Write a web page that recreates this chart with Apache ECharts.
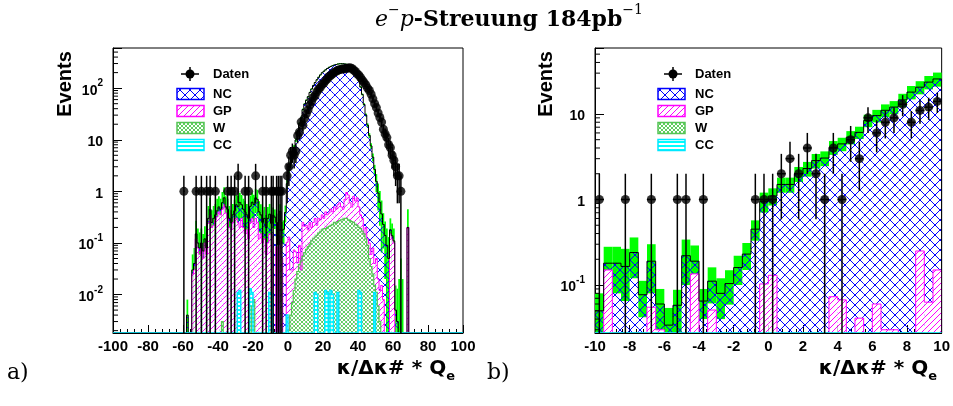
<!DOCTYPE html>
<html>
<head>
<meta charset="utf-8">
<script src="https://cdn.jsdelivr.net/npm/echarts@6/dist/echarts.min.js"></script>
<style>
html,body{margin:0;padding:0;background:#fff;}
#c{width:953px;height:406px;}
</style>
</head>
<body>
<div id="c"></div>
<script>
// ---------------- a) full range: 1-unit bins from -60 to 70 ----------------
const leftBinStart = -60;
const leftBinWidth = 1;
const leftData = [
  1,0,0,0,0,0,0,1,0,0,   1,0,0,1,0,1,0,0,1,0,   0,0,0,0,0,1,0,1,0,1,
  0,2,0,0,0,1,0,1,0,0,   0,2,0,0,0,1,0,1,0,0,   1,1,0,1,1,1,1,0,0,2,
  3,5,6,5,6,12,14,22,19,26,
  32,38,47,55,66,72,85,95,104,118,
  126,140,152,168,178,190,204,212,222,228,
  233,238,236,242,246,248,240,225,210,190,
  178,160,142,128,115,100,90,76,62,50,
  42,33,27,22,16,13,11,8,7,5,
  4,3,2,2,1,0,0,0,0,0
];
const leftNC = [
  0,0,0.004,0,0,0.005,0.01,0.03,0.02,0.02,
  0.02,0.02,0.02,0.02,0.06,0.1,0.05,0.08,0.07,0.1,
  0.1,0.1,0.15,0.2,0.12,0.15,0.1,0.07,0.1,0.12,
  0.25,0.25,0.4,0.25,0.25,0.25,0.17,0.18,0.25,0.3,
  0.35,0.45,0.45,0.28,0.2,0.15,0.18,0.14,0.2,0.2,
  0.08,0.345,0.317,0.165,0.092,0.275,0.124,0.184,0.39,1.3,
  2.5,3.4,5.1,7.1,9.8,14.4,20.5,26.4,38.3,49,
  58,68,82,96,112,128,145,162,180,198,
  212,226,240,252,263,272,280,287,292,296,
  298,297,294,288,280,268,252,232,208,178,
  140,105,75,48,30,19,12,7.5,4.5,2.6,
  1.5,0.9,0.6,0.35,0.22,0.14,0.09,0.05,0.03,0.018,
  0.01,0.005,0.003,0,0,0,0,0,0,0
];
const leftGP = [
  0,0,0,0,0,0.025,0.03,0.12,0.08,0.06,
  0.08,0.05,0.1,0.06,0.24,0.35,0.2,0.22,0.28,0.32,
  0.4,0.35,0.45,0.55,0.38,0.3,0.2,0.18,0.25,0.3,
  0.3,0.25,0.2,0.3,0.2,0.15,0.18,0.12,0.25,0.3,
  0.2,0.3,0.25,0.12,0.15,0.1,0.12,0.06,0.1,0.15,
  0.15,0,0,0.085,0,0.135,0.051,0,0,0.103,
  0.13,0.03,0.03,0.073,0.067,0.041,0.09,0.03,0.25,0.21,
  0.22,0.18,0.25,0.2,0.25,0.3,0.22,0.3,0.28,0.35,
  0.3,0.4,0.35,0.38,0.45,0.4,0.5,0.45,0.55,0.6,
  0.5,0.45,0.7,0.95,0.85,0.6,0.5,0.8,0.65,0.75,
  0.5,0.35,0.3,0.15,0.2,0.12,0.1,0.06,0.08,0.04,
  0.05,0.02,0.012,0.015,0.008,0,0,0,0.15,0.12,
  0.1,0,0,0,0,0,0,0,0.2,0
];
const leftW = [
  0,0,0,0,0,0,0,0,0,0,   0,0,0,0,0,0,0,0,0,0,   0,0,0.003,0,0,0,0,0,0,0,
  0,0,0,0,0,0,0,0,0,0.006,   0.008,0,0,0,0,0,0,0,0,0,   0,0,0,0,0,0,0,0,0,0.002,
  0.002,0.004,0.007,0.012,0.02,0.028,0.038,0.045,0.055,0.065,
  0.075,0.085,0.095,0.11,0.12,0.13,0.14,0.155,0.165,0.18,
  0.19,0.19,0.2,0.21,0.22,0.23,0.25,0.24,0.26,0.27,
  0.28,0.29,0.3,0.3,0.28,0.27,0.26,0.25,0.23,0.22,
  0.2,0.19,0.17,0.15,0.12,0.09,0.05,0.035,0.025,0.015,
  0.011,0.006,0.003,0,0,0,0,0,0,0,
  0,0,0,0,0,0,0,0,0,0
];
const leftCC = [
  0,0,0,0,0,0,0,0,0,0,   0,0,0,0,0,0,0,0,0,0,   0,0,0,0,0,0,0,0,0,0,
  0,0.011,0.012,0,0,0,0,0,0.013,0.011,
  0,0,0,0,0,0,0,0,0,0.011,
  0.01,0,0,0,0,0,0,0,0,0.004,
  0,0,0,0,0,0,0,0,0,0,
  0,0,0,0,0,0.011,0.01,0,0,0,
  0,0.012,0.011,0,0.012,0.01,0,0,0.011,0,
  0,0,0,0,0,0,0,0,0,0,
  0.012,0.011,0,0,0,0,0,0,0,0.011,
  0,0,0,0,0,0,0,0,0,0,
  0,0,0,0,0,0,0,0,0,0
];
const leftErr = [
  0,0,0.004,0,0,0.03,0.04,0.12,0.09,0.08,
  0.09,0.08,0.09,0.08,0.22,0.3,0.18,0.22,0.22,0.3,
  0.3,0.27,0.37,0.45,0.3,0.27,0.22,0.18,0.22,0.27,
  0.3,0.3,0.33,0.3,0.27,0.24,0.22,0.2,0.3,0.33,
  0.3,0.37,0.37,0.24,0.21,0.18,0.2,0.15,0.2,0.21,
  0.13,0.14,0.13,0.12,0.05,0.15,0.08,0.09,0.14,0.3,
  0.4,0.45,0.6,0.7,0.8,1.0,1.2,1.4,1.7,2.0,
  2.2,2.5,2.8,3.1,3.4,3.7,4.0,4.3,4.6,5.0,
  5.2,5.5,5.8,6.0,6.2,6.4,6.6,6.8,7.0,7.0,
  7.0,7.0,7.0,6.8,6.6,6.4,6.2,6.0,5.6,5.0,
  4.4,3.8,3.2,2.5,2.0,1.6,1.3,1.0,0.8,0.6,
  0.6,0.5,0.4,0.3,0.15,0.12,0.1,0.08,0.12,0.1,
  0.08,0.01,0.01,0.02,0.05,0.02,0,0,0.25,0
];

// ---------------- b) zoom: 0.5-unit bins from -10 to 10 ----------------
const rightBinStart = -10;
const rightBinWidth = 0.5;
const rightData = [
  1,0,0,1,0,0,1,0,0,1,  1,0,1,0,0,0,0,0,1,1,
  1,2,3,2,4,2,1,4,1,5,  3,9,6,8,9,13,8,11,12,14
];
const rightNC = [
  0.05,0.03,0.18,0.165,0.24,0.077,0.135,0.03,0.034,0.058,
  0.22,0.055,0.065,0.06,0.08,0.104,0.16,0.23,0.45,0.85,
  0.97,1.5,1.5,2.0,2.3,2.85,3.05,4.0,4.4,5.35,
  6.05,8.4,9.5,11,12,14.6,18,20.3,23.5,25.5
];
const rightGP = [
  0,0.15,0,0,0,0,0.055,0.03,0,0,
  0,0.135,0,0.051,0,0,0,0,0,0.103,
  0.13,0,0,0,0,0,0,0.073,0.067,0,
  0.041,0,0.06,0.03,0.03,0,0,0.25,0.063,0.15
];
const rightW = [
  0,0,0,0,0,0,0,0,0,0, 0,0,0,0,0,0,0,0,0,0,
  0,0,0,0,0,0,0,0,0,0, 0,0,0,0,0,0,0,0,0,0
];
const rightCC = [
  0,0,0,0,0,0,0,0,0,0, 0,0,0,0,0,0,0,0,0,0,
  0,0,0,0,0,0,0,0,0,0, 0,0,0,0,0,0,0,0,0,0
];
const rightErr = [
  0.03,0.1,0.1,0.1,0.12,0.035,0.11,0.03,0.02,0.03,
  0.12,0.1,0.025,0.05,0.04,0.045,0.06,0.08,0.12,0.25,
  0.25,0.3,0.3,0.4,0.45,0.55,0.6,0.75,0.8,0.95,
  1.0,1.4,1.6,1.9,2.1,2.6,3.2,3.6,4.2,4.8
];

// axis ranges
const leftX = [-100, 100], leftXStep = 20, leftY = [0.0018, 600];
const rightX = [-10, 10], rightXStep = 2, rightY = [0.0275, 59];

const legendLabels = ['Daten', 'NC', 'GP', 'W', 'CC'];
const titleText = '{i|e}{s|\u2212}{i|p}{b|-Streuung 184pb}{s|\u22121}';
const xTitle = '{m|\u03BA/\u0394\u03BA# * Q}{e|e}';

const SANS = '"Liberation Sans", Arial, Helvetica, sans-serif';
const WIDE = '"DejaVu Sans", "Liberation Sans", Arial, sans-serif';
const SERIF = '"DejaVu Serif", "Liberation Serif", serif';

// ---- hatch patterns ----
function pattern(size, bg, color, lw, draw) {
  const c = document.createElement('canvas');
  c.width = size; c.height = size;
  const g = c.getContext('2d');
  if (bg) { g.fillStyle = bg; g.fillRect(0, 0, size, size); }
  g.strokeStyle = color; g.lineWidth = lw;
  g.beginPath(); draw(g, size); g.stroke();
  return { image: c, repeat: 'repeat' };
}
const crossHatch = (g, s) => { g.moveTo(-1, -1); g.lineTo(s + 1, s + 1); g.moveTo(s + 1, -1); g.lineTo(-1, s + 1); };
const ncFill = pattern(10, null, '#0000ff', 1, crossHatch);
const ncFillLegend = pattern(10, '#ffffff', '#0000ff', 1, crossHatch);
const gpFill = pattern(6, '#ffffff', '#ff00ff', 1, (g, s) => { g.moveTo(-1, s + 1); g.lineTo(s + 1, -1); });
const wFill = pattern(4, '#ffffff', '#5fcf5f', 1, crossHatch);
const ccFill = pattern(4, '#ffffff', '#00ffff', 2, (g, s) => { g.moveTo(0, s / 2); g.lineTo(s, s / 2); });

const NC_LINE = '#0000ff', GP_LINE = '#ff00ff', W_LINE = '#55c455', CC_LINE = '#00e8ff';

// ---- one panel's series ----
function panelSeries(P, gi) {
  const n = P.nc.length;
  const centers = [], totals = [];
  for (let i = 0; i < n; i++) {
    centers.push(P.start + (i + 0.5) * P.width);
    totals.push(P.nc[i] + P.gp[i] + P.w[i] + P.cc[i]);
  }
  const clampV = v => Math.min(Math.max(v, P.yr[0]), P.yr[1]);
  const base = { type: 'custom', coordinateSystem: 'cartesian2d', xAxisIndex: gi, yAxisIndex: gi,
                 silent: true, animation: false, clip: true, encode: { x: 0, y: 1 } };
  const rect = (api, i, lo, hi) => {
    const x0 = P.start + i * P.width, x1 = x0 + P.width;
    const a = api.coord([x0, clampV(hi)]);
    const b = api.coord([x1, clampV(lo)]);
    return { x: a[0], y: a[1], width: b[0] - a[0], height: b[1] - a[1] };
  };
  const items = centers.map((c, i) => [c, Math.max(totals[i], P.yr[0])]);
  const fillSeries = (vals, withErr, fill) => Object.assign({}, base, {
    data: items,
    renderItem: (params, api) => {
      const i = params.dataIndex;
      const hi = vals[i] + (withErr ? P.err[i] : 0);
      if (hi <= P.yr[0]) return null;
      const lo = withErr ? vals[i] - P.err[i] : P.yr[0];
      return { type: 'rect', shape: rect(api, i, lo, hi), style: { fill: fill } };
    }
  });
  const stepSeries = (vals, color, lw) => Object.assign({}, base, {
    data: [[P.xr[0], P.yr[0]]],
    renderItem: (params, api) => {
      const yOf = v => api.coord([P.xr[0], clampV(v)])[1];
      const xOf = x => api.coord([x, P.yr[0]])[0];
      const pts = [[xOf(P.xr[0]), yOf(0)]];
      for (let i = 0; i < n; i++) {
        const x0 = P.start + i * P.width, y = yOf(vals[i]);
        pts.push([xOf(x0), y], [xOf(x0 + P.width), y]);
      }
      pts.push([xOf(P.xr[1]), yOf(0)]);
      return { type: 'polyline', shape: { points: pts }, style: { stroke: color, lineWidth: lw, fill: null } };
    }
  });

  const s = [];
  s.push(fillSeries(totals, true, '#00ff00'));        // MC statistical band
  s.push(fillSeries(totals, false, ncFill));          // NC (top of the stack)
  s.push(fillSeries(P.gp, false, gpFill));
  s.push(fillSeries(P.w, false, wFill));
  s.push(fillSeries(P.cc, false, ccFill));
  s.push(stepSeries(P.gp, GP_LINE, 1));
  s.push(stepSeries(P.w, W_LINE, 1.2));
  s.push(stepSeries(totals, '#000000', 1));
  s.push(stepSeries(P.cc, CC_LINE, 1.5));

  // data with Poisson error bars
  const pts = [];
  for (let i = 0; i < n; i++) if (P.data[i] > 0) pts.push([centers[i], P.data[i], i]);
  s.push(Object.assign({}, base, {
    data: pts,
    renderItem: (params, api) => {
      const c = api.value(0), v = api.value(1), e = Math.sqrt(v);
      const top = api.coord([c, clampV(v + e)]);
      const bot = api.coord([c, clampV(v - e)]);
      const l = api.coord([c - P.width / 2, v]);
      const r = api.coord([c + P.width / 2, v]);
      return { type: 'group', children: [
        { type: 'line', shape: { x1: top[0], y1: top[1], x2: bot[0], y2: bot[1] }, style: { stroke: '#000', lineWidth: 1.5 } },
        { type: 'line', shape: { x1: l[0], y1: l[1], x2: r[0], y2: r[1] }, style: { stroke: '#000', lineWidth: 1.5 } }
      ] };
    }
  }));
  s.push({ type: 'scatter', xAxisIndex: gi, yAxisIndex: gi, data: pts.map(p => [p[0], p[1]]),
           symbol: 'circle', symbolSize: 9, itemStyle: { color: '#000' }, silent: true, animation: false, z: 3 });

  // minor log ticks on the y axis (2..9 per decade)
  const minors = [];
  for (let k = -4; k <= 3; k++) for (let m = 2; m <= 9; m++) {
    const v = m * Math.pow(10, k);
    if (v > P.yr[0] && v < P.yr[1]) minors.push([P.xr[0], v]);
  }
  s.push(Object.assign({}, base, {
    data: minors, clip: false,
    renderItem: (params, api) => {
      const p = api.coord([P.xr[0], api.value(1)]);
      return { type: 'line', shape: { x1: p[0], y1: p[1], x2: p[0] + 5, y2: p[1] }, style: { stroke: '#000', lineWidth: 1 } };
    }
  }));
  return s;
}

const leftPanel = { start: leftBinStart, width: leftBinWidth, data: leftData, nc: leftNC, gp: leftGP, w: leftW, cc: leftCC, err: leftErr, xr: leftX, yr: leftY };
const rightPanel = { start: rightBinStart, width: rightBinWidth, data: rightData, nc: rightNC, gp: rightGP, w: rightW, cc: rightCC, err: rightErr, xr: rightX, yr: rightY };

function powLabel(v) {
  const e = Math.log10(v), r = Math.round(e);
  if (Math.abs(e - r) > 1e-6) return '';
  if (r === 0) return '{b|1}';
  if (r === 1) return '{b|10}';
  return '{b|10}{s|' + r + '}';
}
const labelRich = {
  b: { fontFamily: SANS, fontWeight: 'bold', fontSize: 14, color: '#000', padding: [5, 0, 0, 0] },
  s: { fontFamily: SANS, fontWeight: 'bold', fontSize: 10, color: '#000', verticalAlign: 'top', lineHeight: 10 }
};
function xAxisOpt(gi, r, step) {
  return { type: 'value', gridIndex: gi, min: r[0], max: r[1], interval: step,
    axisLine: { show: true, onZero: false, lineStyle: { color: '#000', width: 1 } },
    axisTick: { show: true, inside: true, length: 8, lineStyle: { color: '#000', width: 1 } },
    minorTick: { show: true, splitNumber: 5, length: 4, lineStyle: { color: '#000', width: 1 } },
    splitLine: { show: false },
    axisLabel: { margin: 6, color: '#000', fontFamily: SANS, fontWeight: 'bold', fontSize: 15 } };
}
function yAxisOpt(gi, r) {
  return { type: 'log', logBase: 10, gridIndex: gi, min: r[0], max: r[1],
    axisLine: { show: true, onZero: false, lineStyle: { color: '#000', width: 1 } },
    axisTick: { show: true, inside: true, length: 9, lineStyle: { color: '#000', width: 1 } },
    minorTick: { show: false }, splitLine: { show: false },
    axisLabel: { margin: 10, formatter: powLabel, rich: labelRich, color: '#000' } };
}

function legend(markX, markY, boxX, textX) {
  const rows = [94, 111, 128, 145];
  const fills = [ncFillLegend, gpFill, wFill, ccFill];
  const strokes = [NC_LINE, GP_LINE, W_LINE, CC_LINE];
  const el = [
    { type: 'line', shape: { x1: markX - 9, y1: markY, x2: markX + 9, y2: markY }, style: { stroke: '#000', lineWidth: 1.5 } },
    { type: 'line', shape: { x1: markX, y1: markY - 7, x2: markX, y2: markY + 7 }, style: { stroke: '#000', lineWidth: 1.5 } },
    { type: 'circle', shape: { cx: markX, cy: markY, r: 4.5 }, style: { fill: '#000' } },
    { type: 'text', x: textX, y: markY, style: { text: legendLabels[0], font: 'bold 13px ' + SANS, fill: '#000', verticalAlign: 'middle' } }
  ];
  rows.forEach((y, k) => {
    el.push({ type: 'rect', shape: { x: boxX, y: y - 5.5, width: 27, height: 11 }, style: { fill: fills[k], stroke: strokes[k], lineWidth: 1.5 } });
    el.push({ type: 'text', x: textX, y: y, style: { text: legendLabels[k + 1], font: 'bold 13px ' + SANS, fill: '#000', verticalAlign: 'middle' } });
  });
  return el;
}

const chart = echarts.init(document.getElementById('c'), null, { renderer: 'canvas', width: 953, height: 406 });
const textEl = (x, y, text, font, extra) => ({ type: 'text', x: x, y: y, style: Object.assign({ text: text, font: font, fill: '#000' }, extra || {}) });
const axisTitleRich = {
  m: { fontFamily: WIDE, fontWeight: 'bold', fontSize: 20, padding: [0, 0, 5, 0] },
  e: { fontFamily: WIDE, fontWeight: 'bold', fontSize: 13, verticalAlign: 'bottom', lineHeight: 12 }
};

chart.setOption({
  animation: false,
  backgroundColor: '#ffffff',
  grid: [
    { left: 113, top: 48, width: 350, height: 285, show: true, borderColor: '#000', borderWidth: 1, backgroundColor: 'transparent' },
    { left: 595, top: 48, width: 348, height: 285, show: true, borderColor: '#000', borderWidth: 1, backgroundColor: 'transparent' }
  ],
  xAxis: [xAxisOpt(0, leftX, leftXStep), xAxisOpt(1, rightX, rightXStep)],
  yAxis: [yAxisOpt(0, leftY), yAxisOpt(1, rightY)],
  series: panelSeries(leftPanel, 0).concat(panelSeries(rightPanel, 1)),
  graphic: [
    textEl(375, 17, titleText, '22px ' + SERIF, { verticalAlign: 'middle', rich: {
      i: { fontFamily: SERIF, fontStyle: 'italic', fontSize: 22, padding: [6, 0, 0, 0] },
      b: { fontFamily: SERIF, fontWeight: 'bold', fontSize: 22, padding: [6, 0, 0, 0] },
      s: { fontFamily: SERIF, fontSize: 14, verticalAlign: 'top', lineHeight: 14 } } }),
    textEl(65, 84, 'Events', 'bold 20px ' + SANS, { align: 'center', verticalAlign: 'middle' }),
    textEl(546, 84, 'Events', 'bold 20px ' + SANS, { align: 'center', verticalAlign: 'middle' }),
    textEl(455, 371, xTitle, 'bold 20px ' + WIDE, { align: 'right', verticalAlign: 'middle', rich: axisTitleRich }),
    textEl(937, 371, xTitle, 'bold 20px ' + WIDE, { align: 'right', verticalAlign: 'middle', rich: axisTitleRich }),
    textEl(7, 384, 'a)', '22px ' + SERIF, { verticalAlign: 'bottom' }),
    textEl(487, 384, 'b)', '22px ' + SERIF, { verticalAlign: 'bottom' })
  ].map((g, k) => k === 1 || k === 2 ? Object.assign(g, { rotation: Math.PI / 2 }) : g)
   .concat(legend(190, 74, 177, 213)).concat(legend(673, 74, 658, 695))
});
</script>
</body>
</html>
